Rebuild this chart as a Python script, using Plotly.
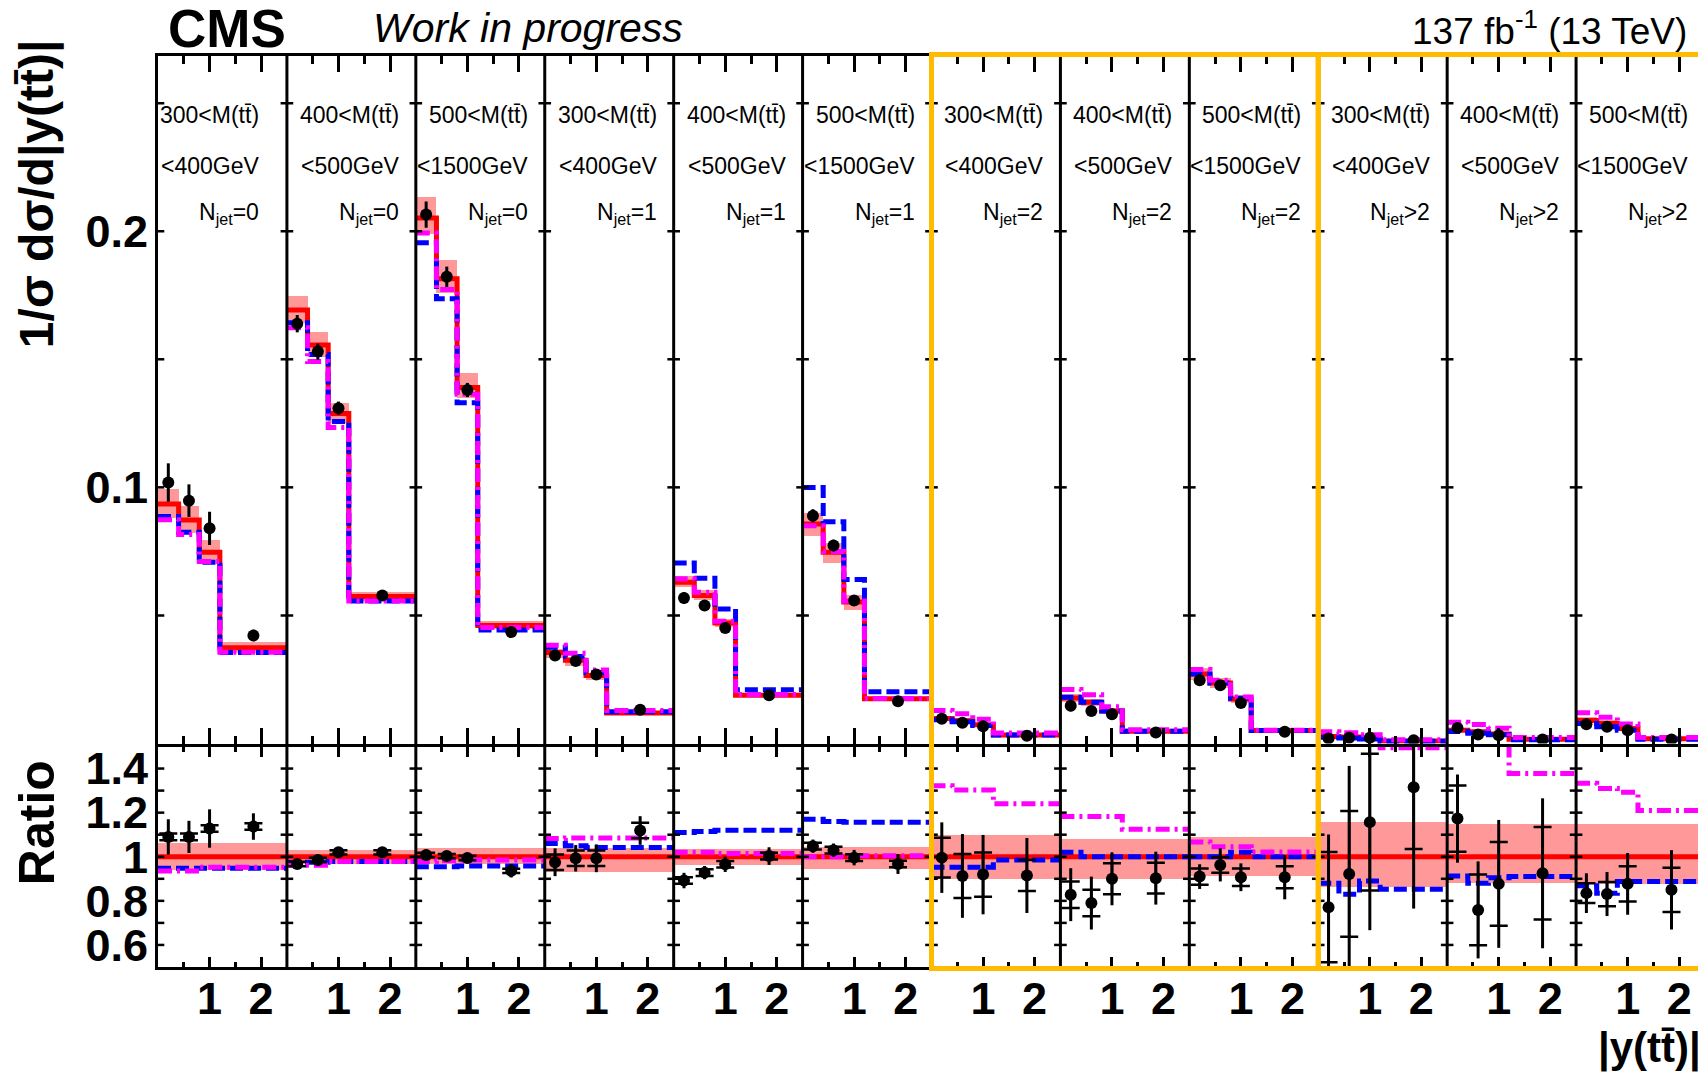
import plotly.graph_objects as go

# ---------------- data ----------------
W = 2.5                                   # |y(tt)| span of one panel
edges = [0.0, 0.4, 0.8, 1.2, 2.5]         # |y(tt)| bin edges
centers = [0.2, 0.6, 1.0, 1.85]
mass_lo = ["300", "400", "500"] * 4
mass_hi = ["400", "500", "1500"] * 4
njet = ["=0"] * 3 + ["=1"] * 3 + ["=2"] * 3 + ["&gt;2"] * 3

data_up = [
    [0.1019, 0.0948, 0.0840, 0.0422], [0.1639, 0.1530, 0.1309, 0.0578], [0.2065, 0.1822, 0.1380, 0.0435],
    [0.0344, 0.0322, 0.0269, 0.0132], [0.0568, 0.0539, 0.0451, 0.0188], [0.0889, 0.0773, 0.0558, 0.0165],
    [0.0097, 0.0081, 0.0067, 0.0030], [0.0147, 0.0127, 0.0114, 0.0043], [0.0247, 0.0227, 0.0158, 0.0046],
    [0.0020, 0.0022, 0.0022, 0.0013], [0.0061, 0.0035, 0.0032, 0.0016], [0.0075, 0.0065, 0.0052, 0.0016]]
red_up = [
    [0.0935, 0.0873, 0.0747, 0.0374], [0.1692, 0.1556, 0.1288, 0.0574], [0.2052, 0.1814, 0.1390, 0.0461],
    [0.0355, 0.0325, 0.0265, 0.0119], [0.0630, 0.0578, 0.0470, 0.0188], [0.0857, 0.0747, 0.0552, 0.0175],
    [0.0098, 0.0089, 0.0073, 0.0033], [0.0178, 0.0161, 0.0127, 0.0048], [0.0271, 0.0236, 0.0174, 0.0051],
    [0.0027, 0.0025, 0.0020, 0.0010], [0.0052, 0.0046, 0.0037, 0.0017], [0.0090, 0.0078, 0.0059, 0.0019]]
blue_up = [
    [0.0886, 0.0825, 0.0708, 0.0355], [0.1643, 0.1519, 0.1257, 0.0556], [0.1955, 0.1736, 0.1330, 0.0443],
    [0.0376, 0.0340, 0.0276, 0.0124], [0.0705, 0.0645, 0.0525, 0.0210], [0.0999, 0.0866, 0.0640, 0.0202],
    [0.0093, 0.0085, 0.0070, 0.0033], [0.0181, 0.0161, 0.0127, 0.0048], [0.0271, 0.0236, 0.0177, 0.0051],
    [0.0024, 0.0021, 0.0018, 0.0009], [0.0047, 0.0040, 0.0034, 0.0015], [0.0078, 0.0065, 0.0052, 0.0017]]
mag_up = [
    [0.0874, 0.0816, 0.0711, 0.0356], [0.1623, 0.1491, 0.1234, 0.0556], [0.1993, 0.1772, 0.1363, 0.0453],
    [0.0384, 0.0352, 0.0287, 0.0129], [0.0643, 0.0590, 0.0477, 0.0191], [0.0850, 0.0750, 0.0556, 0.0176],
    [0.0129, 0.0116, 0.0095, 0.0041], [0.0211, 0.0190, 0.0143, 0.0054], [0.0289, 0.0247, 0.0182, 0.0052],
    [0.0046, 0.0042, 0.0034, 0.0015], [0.0083, 0.0074, 0.0060, 0.0023], [0.0120, 0.0102, 0.0076, 0.0023]]

# ratio to the nominal prediction
ratio_data = [
    [1.090, 1.090, 1.128, 1.137], [0.967, 0.985, 1.020, 1.020], [1.008, 1.003, 0.994, 0.936],
    [0.975, 0.993, 0.993, 1.119], [0.892, 0.928, 0.966, 1.003], [1.048, 1.030, 0.996, 0.967],
    [0.996, 0.913, 0.919, 0.915], [0.828, 0.790, 0.900, 0.903], [0.910, 0.963, 0.907, 0.907],
    [0.771, 0.922, 1.157, 1.315], [1.173, 0.759, 0.877, 0.925], [0.835, 0.831, 0.877, 0.850]]
ratio_tot = [
    [0.080, 0.073, 0.087, 0.060], [0.020, 0.020, 0.020, 0.020], [0.025, 0.022, 0.020, 0.030],
    [0.063, 0.060, 0.063, 0.065], [0.035, 0.030, 0.035, 0.040], [0.030, 0.030, 0.035, 0.045],
    [0.160, 0.190, 0.180, 0.170], [0.120, 0.120, 0.120, 0.120], [0.056, 0.075, 0.063, 0.100],
    [0.330, 0.490, 0.490, 0.550], [0.200, 0.220, 0.290, 0.340], [0.090, 0.100, 0.140, 0.180]]
ratio_stat = [
    [0.015, 0.015, 0.015, 0.015], [0.010, 0.010, 0.010, 0.010], [0.010, 0.010, 0.010, 0.010],
    [0.035, 0.035, 0.035, 0.035], [0.015, 0.015, 0.015, 0.015], [0.015, 0.015, 0.015, 0.015],
    [0.090, 0.100, 0.100, 0.070], [0.060, 0.060, 0.070, 0.070], [0.037, 0.035, 0.040, 0.050],
    [0.250, 0.285, 0.310, 0.280], [0.150, 0.160, 0.190, 0.210], [0.045, 0.055, 0.080, 0.100]]
ratio_blue = [
    [0.948, 0.948, 0.948, 0.948], [0.975, 0.975, 0.978, 0.978], [0.955, 0.955, 0.958, 0.958],
    [1.060, 1.050, 1.042, 1.042], [1.110, 1.115, 1.120, 1.120], [1.170, 1.160, 1.157, 1.157],
    [0.952, 0.952, 0.952, 0.985], [1.020, 1.000, 1.000, 1.000], [1.000, 1.000, 1.020, 1.000],
    [0.880, 0.830, 0.890, 0.853], [0.913, 0.880, 0.905, 0.910], [0.868, 0.835, 0.888, 0.888]]
ratio_mag = [
    [0.935, 0.935, 0.952, 0.952], [0.962, 0.962, 0.978, 0.978], [0.978, 0.982, 0.985, 0.985],
    [1.083, 1.085, 1.085, 1.085], [1.020, 1.020, 1.015, 1.015], [1.000, 1.000, 1.005, 1.005],
    [1.322, 1.303, 1.303, 1.240], [1.183, 1.183, 1.183, 1.125], [1.067, 1.045, 1.045, 1.022],
    [1.620, 1.600, 1.580, 1.494], [1.600, 1.600, 1.600, 1.378], [1.333, 1.310, 1.292, 1.210]]
band_hi = [0.063, 0.033, 0.040, 0.040, 0.038, 0.048, 0.100, 0.085, 0.090, 0.160, 0.150, 0.153]
band_lo = [0.060, 0.030, 0.030, 0.065, 0.033, 0.055, 0.100, 0.097, 0.087, 0.135, 0.115, 0.120]

up_yticks = [0.1, 0.2]
ratio_yticks = [0.6, 0.8, 1.0, 1.2, 1.4]
up_small_ticks = [0.05, 0.10, 0.15, 0.20, 0.25]
ratio_small_ticks = [0.6, 0.7, 0.8, 0.9, 1.0, 1.1, 1.2, 1.3, 1.4]

# ---------------- figure ----------------
NP = len(data_up)
XMAX = NP * W * 1540.0 / 1547.0
UP_BOTTOM = (967.0 - 743.5) / 911.0     # upper pad bottom (paper)
RATIO_TOP = (967.0 - 746.5) / 911.0     # ratio pad top (paper)
FONT = "Liberation Sans, Arial, sans-serif"
RED, BLUE, MAG, PINK, ORANGE = "#ff0000", "#0000ff", "#ff00ff", "#ff9999", "#ffbb00"

fig = go.Figure()


def step_xy(rows):
    xs, ys = [], []
    for i, vals in enumerate(rows):
        off = i * W
        xs += [off + e for e in edges] + [None]
        ys += list(vals) + [vals[-1], None]
    return xs, ys


def bars(ylo_rows, yhi_rows, xa, ya):
    xs, ws, base, h = [], [], [], []
    for i in range(NP):
        for j in range(4):
            xs.append(i * W + (edges[j] + edges[j + 1]) / 2)
            ws.append(edges[j + 1] - edges[j])
            base.append(ylo_rows[i][j])
            h.append(yhi_rows[i][j] - ylo_rows[i][j])
    fig.add_trace(go.Bar(x=xs, y=h, base=base, width=ws, marker=dict(color=PINK, line=dict(width=0)),
                         xaxis=xa, yaxis=ya, hoverinfo="skip", showlegend=False))


# bands
bars([[r * (1 - band_lo[i]) for r in red_up[i]] for i in range(NP)],
     [[r * (1 + band_hi[i]) for r in red_up[i]] for i in range(NP)], "x", "y")
bars([[1 - band_lo[i]] * 4 for i in range(NP)], [[1 + band_hi[i]] * 4 for i in range(NP)], "x2", "y2")

ones = [[1.0] * 4 for _ in range(NP)]
for rows, col, dash, xa, ya in [
    (red_up, RED, "solid", "x", "y"), (blue_up, BLUE, "13px,5px", "x", "y"), (mag_up, MAG, "14px,5px,3px,5px", "x", "y"),
    (ones, RED, "solid", "x2", "y2"), (ratio_blue, BLUE, "13px,5px", "x2", "y2"), (ratio_mag, MAG, "14px,5px,3px,5px", "x2", "y2")]:
    xs, ys = step_xy(rows)
    fig.add_trace(go.Scatter(x=xs, y=ys, mode="lines", line=dict(color=col, width=5, dash=dash, shape="hv"),
                             xaxis=xa, yaxis=ya, hoverinfo="skip", showlegend=False, connectgaps=False))

# data points
dx = [i * W + c for i in range(NP) for c in centers]
fig.add_trace(go.Scatter(
    x=dx, y=[v for r in data_up for v in r], mode="markers",
    marker=dict(color="black", size=12),
    error_y=dict(type="data", array=[ratio_tot[i][j] * red_up[i][j] for i in range(NP) for j in range(4)],
                 color="black", thickness=3, width=0),
    xaxis="x", yaxis="y", hoverinfo="skip", showlegend=False))
fig.add_trace(go.Scatter(
    x=dx, y=[v for r in ratio_data for v in r], mode="markers",
    marker=dict(color="black", size=12),
    error_y=dict(type="data", array=[v for r in ratio_tot for v in r], color="black", thickness=3, width=0),
    xaxis="x2", yaxis="y2", hoverinfo="skip", showlegend=False))
fig.add_trace(go.Scatter(
    x=dx, y=[v for r in ratio_data for v in r], mode="markers",
    marker=dict(color="rgba(0,0,0,0)", size=1),
    error_y=dict(type="data", array=[v for r in ratio_stat for v in r], color="black", thickness=2.5, width=9),
    xaxis="x2", yaxis="y2", hoverinfo="skip", showlegend=False))

# small y ticks on every panel border
bx = [i * W for i in range(NP)]
fig.add_trace(go.Scatter(x=[b for b in bx for _ in up_small_ticks], y=up_small_ticks * NP, mode="markers",
                         marker=dict(symbol="line-ew", size=9, line=dict(width=2.5, color="black")),
                         xaxis="x", yaxis="y", hoverinfo="skip", showlegend=False))
fig.add_trace(go.Scatter(x=[b for b in bx for _ in ratio_small_ticks], y=ratio_small_ticks * NP, mode="markers",
                         marker=dict(symbol="line-ew", size=9, line=dict(width=2.5, color="black")),
                         xaxis="x2", yaxis="y2", hoverinfo="skip", showlegend=False))

major = [i * W + t for i in range(NP) for t in (1, 2)]
minor = [i * W + t for i in range(NP) for t in (0.5, 1.5)]
labels = ["1", "2"] * NP
axis_common = dict(range=[0, XMAX], showgrid=False, zeroline=False, showline=True, linewidth=3,
                   linecolor="black", mirror="ticks", ticks="inside", tickvals=major, tickwidth=2.5,
                   tickcolor="black")

shapes = []
for i in range(1, NP):
    shapes.append(dict(type="line", xref="x", yref="paper", x0=i * W, x1=i * W, y0=0, y1=1,
                       line=dict(color="black", width=3)))
for a, b in [(6, 9), (9, 12)]:
    shapes.append(dict(type="rect", xref="x", yref="paper", x0=a * W, x1=b * W, y0=-0.0016, y1=1.0016,
                       line=dict(color=ORANGE, width=5), layer="above"))

ann = []
for i in range(NP):
    right = (i + 1) * W - (0.5 if i == 0 else 0.29)
    for yy, txt in [(0.9352, f"{mass_lo[i]}&lt;M(tt\u0304)"), (0.8793, f"&lt;{mass_hi[i]}GeV"),
                    (0.8266, f"N<sub>jet</sub>{njet[i]}")]:
        ann.append(dict(x=right, y=yy, xref="x", yref="paper", xanchor="right", yanchor="middle", showarrow=False,
                        text=txt, font=dict(family=FONT, size=23, color="black")))

ann += [
    dict(x=0.0052, y=1.0307, xref="paper", yref="paper", xanchor="left", yanchor="middle", showarrow=False,
         text="CMS", font=dict(family=FONT, size=53, color="black", weight="bold")),
    dict(x=0.1383, y=1.0307, xref="paper", yref="paper", xanchor="left", yanchor="middle", showarrow=False,
         text="<i>Work in progress</i>", font=dict(family=FONT, size=41, color="black")),
    dict(x=0.9942, y=1.0307, xref="paper", yref="paper", xanchor="right", yanchor="middle", showarrow=False,
         text="137 fb<sup>-1</sup> (13 TeV)", font=dict(family=FONT, size=37, color="black")),
    dict(x=-0.0785, y=0.8485, xref="paper", yref="paper", xanchor="center", yanchor="middle", showarrow=False,
         textangle=-90, text="1/\u03c3 d\u03c3/d|y(tt\u0304)|", font=dict(family=FONT, size=48, color="black", weight="bold")),
    dict(x=-0.0785, y=0.158, xref="paper", yref="paper", xanchor="center", yanchor="middle", showarrow=False,
         textangle=-90, text="Ratio", font=dict(family=FONT, size=50, color="black", weight="bold")),
    dict(x=1.003, y=-0.0889, xref="paper", yref="paper", xanchor="right", yanchor="middle", showarrow=False,
         text="|y(tt\u0304)|", font=dict(family=FONT, size=42, color="black", weight="bold")),
]

tickfont = dict(family=FONT, size=45, color="black", weight="bold")
fig.update_layout(
    width=1698, height=1081, margin=dict(l=158, r=0, t=56, b=114),
    paper_bgcolor="white", plot_bgcolor="white", barmode="overlay", bargap=0, showlegend=False,
    xaxis=dict(domain=[0, 1], anchor="y", showticklabels=False, ticklen=16,
               minor=dict(tickvals=minor, ticklen=8, tickwidth=2.5, ticks="inside", tickcolor="black", showgrid=False),
               **axis_common),
    xaxis2=dict(domain=[0, 1], anchor="y2", matches="x", showticklabels=True, ticktext=labels, ticklen=10,
                tickfont=tickfont, ticklabelstandoff=-10,
                minor=dict(tickvals=minor, ticklen=5, tickwidth=2.5, ticks="inside", tickcolor="black", showgrid=False),
                **axis_common),
    yaxis=dict(domain=[UP_BOTTOM, 1], anchor="x", range=[0, 0.2684], tickvals=up_yticks, ticktext=["0.1", "0.2"],
               ticks="", showgrid=False, zeroline=False, showline=True, linewidth=3, linecolor="black",
               tickfont=tickfont, ticklabelstandoff=-2),
    yaxis2=dict(domain=[0, RATIO_TOP], anchor="x2", range=[0.5, 1.5], tickvals=ratio_yticks,
                ticktext=["0.6", "0.8", "1", "1.2", "1.4"], ticks="", showgrid=False, zeroline=False,
                showline=True, linewidth=3, linecolor="black", tickfont=tickfont, ticklabelstandoff=-2),
    shapes=shapes, annotations=ann,
)

fig.write_html("out.html")
